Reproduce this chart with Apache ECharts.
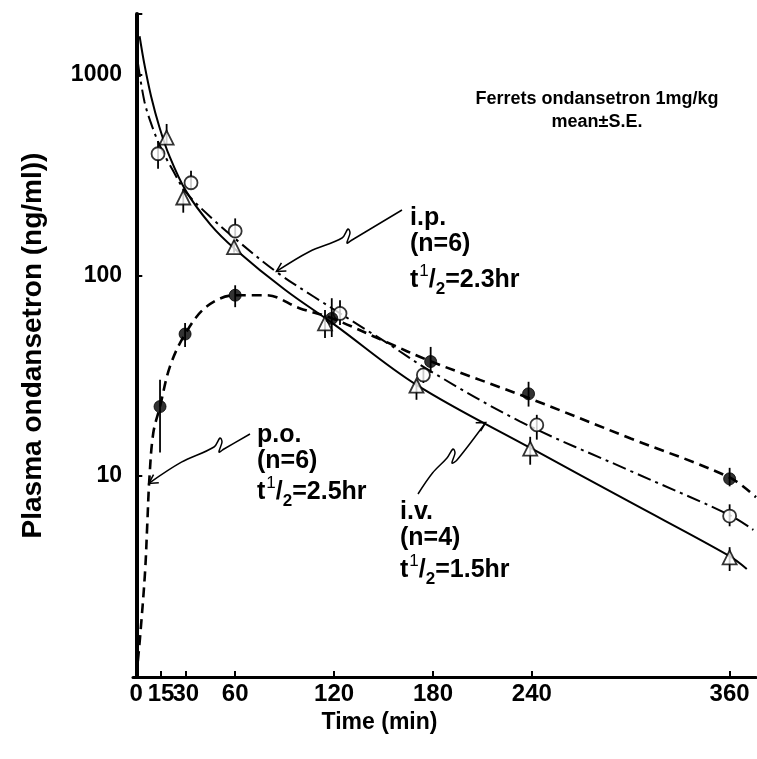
<!DOCTYPE html>
<html><head><meta charset="utf-8">
<script src="https://cdn.jsdelivr.net/npm/echarts@6/dist/echarts.min.js"></script>
<style>html,body{margin:0;padding:0;background:#fff}#c{width:757px;height:759px}</style>
</head><body><div id="c"></div>
<script>
// ---- data ----
const xTickValues = [0, 15, 30, 60, 120, 180, 240, 360];
const yLabelValues = [10, 100, 1000];
// i.v. (open triangles)
const ivTimes = [18.4, 28.5, 59.3, 114.5, 170, 239, 360];
const ivMean  = [485, 244, 138, 57.6, 28.2, 13.7, 3.94];
const ivLo    = [451, 205, 130, 48.7, 24.0, 11.4, 3.37];
const ivHi    = [567, 270, 149, 67.1, 30.2, 15.7, 4.43];
// i.p. (open circles)
const ipTimes = [13.2, 33.2, 60, 123.6, 174.2, 243, 360];
const ipMean  = [403, 289, 166, 64.6, 31.9, 18.0, 6.33];
const ipLo    = [339, 270, 154, 56.5, 29.1, 15.2, 5.63];
const ipHi    = [467, 332, 192, 75.2, 34.6, 20.2, 7.24];
// p.o. (filled circles)
const poTimes = [14.4, 29.6, 60, 118.6, 178.6, 238, 360];
const poMean  = [22.2, 51, 79.6, 61, 37.2, 25.7, 9.7];
const poLo    = [13.1, 44, 69.4, 49.3, 32.7, 22.2, 8.9];
const poHi    = [30.2, 57.8, 89.2, 76.9, 44, 29.5, 11.0];
// fitted curves
const ivCurveT = [2, 5, 9, 14, 20, 30, 45, 60, 90, 120, 170, 240, 300, 360, 370.4];
const ivCurveV = [1550, 1114, 777, 548, 394, 264, 179, 135, 85, 57, 28.5, 13.7, 7.4, 4.0, 3.45];
const ipCurveT = [1, 5, 10, 15, 22, 30, 45, 60, 85, 108, 154, 178, 233, 300, 360, 374.4];
const ipCurveV = [1140, 730, 540, 430, 335, 260, 195, 152, 104, 78, 45, 33.5, 18.7, 10.6, 6.4, 5.4];
const poCurveT = [0, 2.2, 5.3, 6.7, 7.9, 10.3, 14.4, 20.4, 29.6, 42.7, 60, 79, 99, 119, 150, 179, 238, 300, 360, 376];
const poCurveV = [1.0, 1.55, 3.32, 5.87, 9.6, 16.4, 22.2, 35.1, 51, 69.9, 79.6, 79.6, 68.6, 61, 47.2, 37.2, 24.5, 15.4, 9.85, 7.85];

const FONT = "'Liberation Sans', Arial, Helvetica, sans-serif";
const zip = (a, b) => a.map((v, i) => [v, b[i]]);
const bars = (t, lo, hi) => t.map((v, i) => [v, lo[i], hi[i]]);

function errSeries(data) {
  return {
    type: 'custom', z: 3, silent: true,
    data: data,
    renderItem: function (params, api) {
      const a = api.coord([api.value(0), api.value(1)]);
      const b = api.coord([api.value(0), api.value(2)]);
      return { type: 'line', shape: { x1: a[0], y1: a[1], x2: b[0], y2: b[1] },
               style: { stroke: '#000', lineWidth: 1.8 } };
    }
  };
}

const chart = echarts.init(document.getElementById('c'));
const option = {
  animation: false,
  backgroundColor: '#fff',
  grid: { left: 133, right: 1, top: 14, bottom: 82, containLabel: false },
  xAxis: {
    type: 'value', min: -2, max: 376,
    name: 'Time (min)', nameLocation: 'middle', nameGap: 28,
    nameTextStyle: { fontFamily: FONT, fontWeight: 'bold', fontSize: 23, color: '#000', padding: [0, 130, 0, 0] },
    axisLine: { lineStyle: { color: '#000', width: 3 } },
    axisTick: { inside: true, length: 6, customValues: xTickValues, lineStyle: { color: '#000', width: 2 } },
    axisLabel: { customValues: xTickValues, hideOverlap: false, margin: 5,
                 fontFamily: FONT, fontWeight: 'bold', fontSize: 24, color: '#000' },
    splitLine: { show: false }
  },
  yAxis: {
    type: 'log', logBase: 10, min: 1, max: 2000,
    name: 'Plasma ondansetron (ng/ml))', nameLocation: 'middle', nameGap: 86, nameRotate: 90,
    nameTextStyle: { fontFamily: FONT, fontWeight: 'bold', fontSize: 28, color: '#000' },
    axisLine: { lineStyle: { color: '#000', width: 4 } },
    axisTick: { inside: true, length: 6, lineStyle: { color: '#000', width: 2 } },
    axisLabel: { margin: 11, fontFamily: FONT, fontWeight: 'bold', fontSize: 23, color: '#000',
                 formatter: v => (yLabelValues.some(k => Math.abs(k - v) < 1e-6 * k) ? String(Math.round(v)) : '') },
    splitLine: { show: false }
  },
  series: [
    { type: 'line', data: zip(ivCurveT, ivCurveV), showSymbol: false, smooth: 0.35,
      lineStyle: { color: '#000', width: 2 }, z: 2 },
    { type: 'line', data: zip(ipCurveT, ipCurveV), showSymbol: false, smooth: 0.35,
      lineStyle: { color: '#000', width: 2, type: [14, 5, 3, 5] }, z: 2 },
    { type: 'line', data: zip(poCurveT, poCurveV), showSymbol: false, smooth: 0.35,
      lineStyle: { color: '#000', width: 2.6, type: [10, 6] }, z: 2 },
    errSeries(bars(ivTimes, ivLo, ivHi)),
    errSeries(bars(ipTimes, ipLo, ipHi)),
    errSeries(bars(poTimes, poLo, poHi)),
    { type: 'scatter', data: zip(ivTimes, ivMean), symbol: 'triangle', symbolSize: 14, z: 5,
      itemStyle: { color: '#fff', borderColor: '#000', borderWidth: 1.8 } },
    { type: 'scatter', data: zip(ipTimes, ipMean), symbol: 'circle', symbolSize: 13, z: 5,
      itemStyle: { color: '#fff', borderColor: '#000', borderWidth: 1.8 } },
    { type: 'scatter', data: zip(poTimes, poMean), symbol: 'circle', symbolSize: 12, z: 5,
      itemStyle: { color: '#000', borderColor: '#000', borderWidth: 1 } }
  ]
};
chart.setOption(option);

// ---- annotations ----
function px(t, v) { return chart.convertToPixel({ xAxisIndex: 0, yAxisIndex: 0 }, [t, v]); }
const ANN = 25;
function txt(x, y, s, size, align) {
  return { type: 'text', z: 10, style: { x: x, y: y, text: s, fill: '#000',
    font: 'bold ' + size + 'px ' + FONT, textAlign: align || 'left', textVerticalAlign: 'middle' } };
}
function half(x, y, value) {
  return { type: 'text', z: 10, style: { x: x, y: y, textAlign: 'left', textVerticalAlign: 'middle',
    text: '{a|t}{s|1}{a|/}{b|2}{a|=' + value + 'hr}',
    rich: {
      a: { fontFamily: FONT, fontWeight: 'bold', fontSize: ANN, lineHeight: 36, verticalAlign: 'middle', color: '#000' },
      s: { fontFamily: FONT, fontWeight: 'normal', fontSize: 17, lineHeight: 17, verticalAlign: 'top', color: '#000', padding: [1, 0, 0, 1] },
      b: { fontFamily: FONT, fontWeight: 'bold', fontSize: 17, lineHeight: 17, verticalAlign: 'bottom', color: '#000' }
    } } };
}
function arrowLeader(tip, pts) {
  const all = [tip].concat(pts);
  const d = [pts[0][0] - tip[0], pts[0][1] - tip[1]];
  const L = Math.hypot(d[0], d[1]); const ux = d[0] / L, uy = d[1] / L;
  const a = 0.5, len = 10;
  const r1 = [tip[0] + len * (ux * Math.cos(a) - uy * Math.sin(a)), tip[1] + len * (ux * Math.sin(a) + uy * Math.cos(a))];
  const r2 = [tip[0] + len * (ux * Math.cos(-a) - uy * Math.sin(-a)), tip[1] + len * (ux * Math.sin(-a) + uy * Math.cos(-a))];
  return [
    { type: 'polyline', z: 9, shape: { points: all, smooth: 0.35 }, style: { stroke: '#000', fill: null, lineWidth: 1.5 } },
    { type: 'polyline', z: 9, shape: { points: [r1, tip, r2] }, style: { stroke: '#000', fill: null, lineWidth: 1.5 } }
  ];
}
function hook(from, mid, end) {
  return [ [ (from[0] + mid[0]) / 2, (from[1] + mid[1]) / 2 - 3 ], mid,
           [mid[0] + 6, mid[1] - 9], [mid[0] + 8, mid[1] - 5], [mid[0] + 5, mid[1] + 5],
           [mid[0] + 10, mid[1] + 2], end ];
}
const ipTip = px(85, 104.5);
const poTip = px(7.6, 9.2);
const ivTip = px(212, 18.5);
const g = [];
g.push(txt(597, 99, 'Ferrets ondansetron 1mg/kg', 18, 'center'));
g.push(txt(597, 122, 'mean\u00b1S.E.', 18, 'center'));
// i.p.
g.push(txt(410, 218, 'i.p.', ANN));
g.push(txt(410, 244, '(n=6)', ANN));
g.push(half(410, 280, '2.3'));
g.push(...arrowLeader(ipTip, hook(ipTip, [342, 238], [402, 210])));
// p.o.
g.push(txt(257, 435, 'p.o.', ANN));
g.push(txt(257, 461, '(n=6)', ANN));
g.push(half(257, 492, '2.5'));
g.push(...arrowLeader(poTip, hook(poTip, [214, 447], [250, 434])));
// i.v.
g.push(txt(400, 512, 'i.v.', ANN));
g.push(txt(400, 538, '(n=4)', ANN));
g.push(half(400, 570, '1.5'));
{
  const start = [418, 494];
  const pts = hook(start, [447, 458], ivTip);
  const line = [start].concat(pts);
  g.push({ type: 'polyline', z: 9, shape: { points: line, smooth: 0.35 }, style: { stroke: '#000', fill: null, lineWidth: 1.5 } });
  const arr = arrowLeader(ivTip, [[ivTip[0] - 12, ivTip[1] + 7]]);
  g.push(arr[1]);
}
chart.setOption({ graphic: { elements: g } });
</script>
</body></html>
